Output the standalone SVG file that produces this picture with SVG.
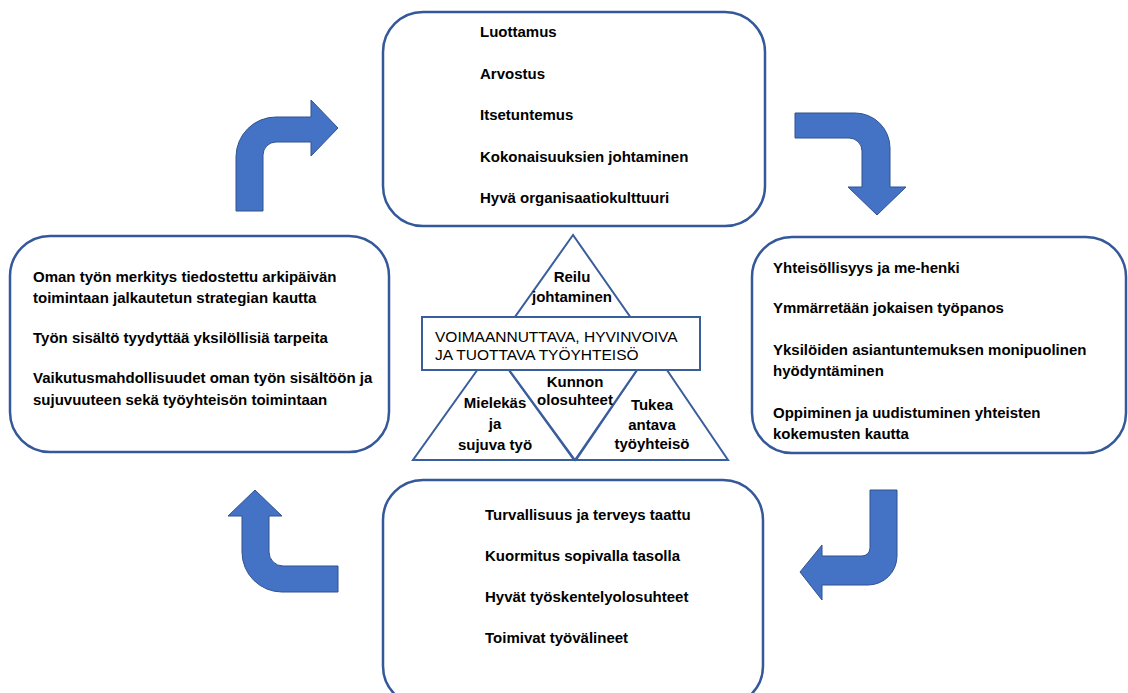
<svg xmlns="http://www.w3.org/2000/svg" width="1128" height="693" viewBox="0 0 1128 693">
  <style>
    .box { fill: #ffffff; stroke: #34589A; stroke-width: 2.5; }
    .tri { fill: #ffffff; stroke: #3A5E9C; stroke-width: 2; stroke-linejoin: miter; }
    .arrow { fill: #4472C4; stroke: #2F528F; stroke-width: 1; }
    .t { font-family: "Liberation Sans", Arial, sans-serif; font-weight: bold; font-size: 15px; fill: #000000; }
    .c { text-anchor: middle; }
    .core { font-family: "Liberation Sans", Arial, sans-serif; font-size: 15.5px; fill: #000000; }
  </style>

  <rect width="1128" height="693" fill="#ffffff"/>

  <!-- curved cycle arrows -->
  <g id="connectors">
    <path class="arrow" d="M 236 211 L 236 157 A 40 40 0 0 1 276 117 L 311 117 L 311 100 L 338 128 L 311 156 L 311 142 L 276 142 A 13 13 0 0 0 263 155 L 263 211 Z"/>
    <path class="arrow" d="M 795 113 L 855 113 A 35 35 0 0 1 890 148 L 890 187 L 906 187 L 877 215 L 848 187 L 862 187 L 862 151 A 13 13 0 0 0 849 138 L 795 138 Z"/>
    <path class="arrow" d="M 870 490 L 897 490 L 897 556 A 29 29 0 0 1 868 585 L 822 585 L 822 600 L 800 572 L 822 545 L 822 556 L 862 556 A 8 8 0 0 0 870 548 Z"/>
    <path class="arrow" d="M 338 566 L 283 566 A 14 14 0 0 1 269 552 L 269 516 L 282 516 L 255 490 L 228 516 L 242 516 L 242 552 A 40 40 0 0 0 282 592 L 338 592 Z"/>
  </g>

  <!-- top: trust and culture -->
  <g id="top-box">
    <rect class="box" x="383" y="12" width="382" height="214" rx="40" ry="40"/>
    <text class="t" x="480" y="37">Luottamus</text>
    <text class="t" x="480" y="79">Arvostus</text>
    <text class="t" x="480" y="120">Itsetuntemus</text>
    <text class="t" x="480" y="162">Kokonaisuuksien johtaminen</text>
    <text class="t" x="480" y="203">Hyvä organisaatiokulttuuri</text>
  </g>

  <!-- right: community -->
  <g id="right-box">
    <rect class="box" x="752" y="237" width="374" height="216" rx="40" ry="40"/>
    <text class="t" x="773" y="273">Yhteisöllisyys ja me-henki</text>
    <text class="t" x="773" y="313">Ymmärretään jokaisen työpanos</text>
    <text class="t" x="773" y="355">Yksilöiden asiantuntemuksen monipuolinen</text>
    <text class="t" x="773" y="376">hyödyntäminen</text>
    <text class="t" x="773" y="418">Oppiminen ja uudistuminen yhteisten</text>
    <text class="t" x="773" y="439">kokemusten kautta</text>
  </g>

  <!-- bottom: working conditions -->
  <g id="bottom-box">
    <rect class="box" x="383" y="480" width="380" height="226" rx="40" ry="40"/>
    <text class="t" x="485" y="520">Turvallisuus ja terveys taattu</text>
    <text class="t" x="485" y="561">Kuormitus sopivalla tasolla</text>
    <text class="t" x="485" y="602">Hyvät työskentelyolosuhteet</text>
    <text class="t" x="485" y="643">Toimivat työvälineet</text>
  </g>

  <!-- left: meaningful work -->
  <g id="left-box">
    <rect class="box" x="10" y="236" width="379" height="216" rx="40" ry="40"/>
    <text class="t" x="33" y="282">Oman työn merkitys tiedostettu arkipäivän</text>
    <text class="t" x="33" y="303">toimintaan jalkautetun strategian kautta</text>
    <text class="t" x="33" y="343">Työn sisältö tyydyttää yksilöllisiä tarpeita</text>
    <text class="t" x="33" y="383">Vaikutusmahdollisuudet oman työn sisältöön ja</text>
    <text class="t" x="33" y="405">sujuvuuteen sekä työyhteisön toimintaan</text>
  </g>

  <!-- central pyramid -->
  <g id="pyramid">
    <polygon class="tri" points="573,235 493,348 652,348"/>
    <polygon class="tri" points="493,348 413,460 574,460"/>
    <polygon class="tri" points="652,348 576,460 728,460"/>
    <polygon class="tri" points="493,348 652,348 575,460"/>
    <text class="t c" x="572" y="282">Reilu</text>
    <text class="t c" x="572" y="302">johtaminen</text>
    <text class="t c" x="575" y="387">Kunnon</text>
    <text class="t c" x="575" y="405">olosuhteet</text>
    <text class="t c" x="495" y="408">Mielekäs</text>
    <text class="t c" x="495" y="429">ja</text>
    <text class="t c" x="495" y="450">sujuva työ</text>
    <text class="t c" x="652" y="410">Tukea</text>
    <text class="t c" x="652" y="430">antava</text>
    <text class="t c" x="652" y="449">työyhteisö</text>
  </g>

  <g id="core">
    <rect x="422" y="317" width="278" height="53" fill="#ffffff" stroke="#3A5E9C" stroke-width="2"/>
    <text class="core" x="435" y="342">VOIMAANNUTTAVA, HYVINVOIVA</text>
    <text class="core" x="435" y="360">JA TUOTTAVA TYÖYHTEISÖ</text>
  </g>
</svg>
